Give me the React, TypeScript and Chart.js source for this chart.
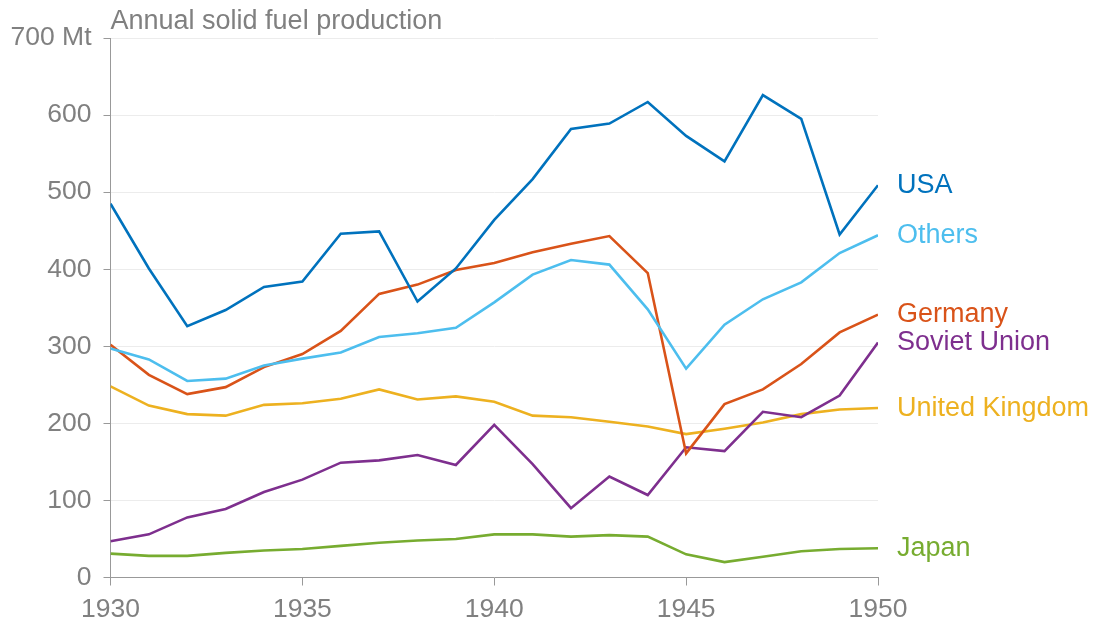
import { useEffect, useRef } from 'react';
import { Chart, registerables } from 'chart.js';

Chart.register(...registerables);

const FONT = '"Liberation Sans", Arial, Helvetica, sans-serif';
const GRAY = '#808080';

const years = [1930, 1931, 1932, 1933, 1934, 1935, 1936, 1937, 1938, 1939, 1940, 1941, 1942, 1943, 1944, 1945, 1946, 1947, 1948, 1949, 1950];
const usa = [485, 401, 326, 347, 377, 384, 446, 449, 358, 401, 464, 517, 582, 589, 617, 573, 540, 626, 595, 445, 509];
const others = [297, 283, 255, 258, 275, 284, 292, 312, 317, 324, 357, 393, 412, 406, 348, 271, 328, 361, 383, 421, 444];
const germany = [302, 263, 238, 247, 273, 290, 320, 368, 380, 399, 408, 422, 433, 443, 395, 161, 225, 244, 277, 318, 341];
const soviet = [47, 56, 78, 89, 111, 127, 149, 152, 159, 146, 198, 147, 90, 131, 107, 169, 164, 215, 208, 236, 305];
const uk = [248, 223, 212, 210, 224, 226, 232, 244, 231, 235, 228, 210, 208, 202, 196, 186, 193, 201, 212, 218, 220];
const japan = [31, 28, 28, 32, 35, 37, 41, 45, 48, 50, 56, 56, 53, 55, 53, 30, 20, 27, 34, 37, 38];

const seriesNames = ['USA', 'Others', 'Germany', 'Soviet Union', 'United Kingdom', 'Japan'];
const seriesValues = [usa, others, germany, soviet, uk, japan];
const seriesColors = ['#0072BD', '#4DBEEE', '#D95319', '#7E2F8E', '#EDB120', '#77AC30'];

const titleText = 'Annual solid fuel production';
const yTicks = [0, 100, 200, 300, 400, 500, 600, 700];
const yUnit = ' Mt';

const labelPlugin = {
  id: 'endLabels',
  afterDatasetsDraw(chart: any) {
    const ctx = chart.ctx;
    const area = chart.chartArea;
    ctx.save();
    ctx.font = `27px ${FONT}`;
    ctx.textAlign = 'left';
    ctx.textBaseline = 'alphabetic';
    ctx.fillStyle = GRAY;
    ctx.fillText(titleText, area.left, 29);
    chart.data.datasets.forEach((ds: any, i: number) => {
      const meta = chart.getDatasetMeta(i);
      const pt = meta.data[meta.data.length - 1];
      ctx.fillStyle = ds.borderColor;
      ctx.fillText(ds.label, area.right + 19, pt.y - 2 + 9.7);
    });
    ctx.restore();
  },
};

export default function App() {
  const ref = useRef<HTMLCanvasElement>(null);
  useEffect(() => {
    const chart = new Chart(ref.current!, {
      type: 'line',
      data: {
        datasets: seriesNames.map((name, i) => ({
          label: name,
          data: years.map((yr, j) => ({ x: yr, y: seriesValues[i][j] })),
          borderColor: seriesColors[i],
          backgroundColor: seriesColors[i],
          borderWidth: 2.6,
          pointRadius: 0,
          tension: 0,
          fill: false,
        })),
      },
      options: {
        responsive: false,
        animation: false,
        layout: { padding: { top: 38, right: 217, bottom: 0, left: 0 } },
        plugins: { legend: { display: false }, tooltip: { enabled: false } },
        scales: {
          x: {
            type: 'linear',
            min: 1930,
            max: 1950,
            ticks: {
              stepSize: 5,
              callback: (v: any) => String(v),
              font: { size: 26.5, family: FONT },
              color: GRAY,
              padding: 8,
              maxRotation: 0,
            },
            grid: { drawOnChartArea: false, tickLength: 8, tickColor: '#999', lineWidth: 1 },
            border: { color: '#999', width: 1 },
            afterFit: (s: any) => { s.height = 45.5; },
          },
          y: {
            min: 0,
            max: 700,
            afterBuildTicks: (s: any) => { s.ticks = yTicks.map((v) => ({ value: v })); },
            ticks: {
              callback: (v: any) => (v === 700 ? `${v}${yUnit}` : String(v)),
              font: { size: 26.5, family: FONT },
              color: GRAY,
              padding: 12,
            },
            grid: { color: '#ececec', tickColor: '#999', tickLength: 7, lineWidth: 1 },
            border: { color: '#999', width: 1 },
            afterFit: (s: any) => { s.width = 110.5; },
          },
        },
      },
      plugins: [labelPlugin],
    } as any);
    return () => chart.destroy();
  }, []);
  return (
    <div style={{ position: 'fixed', left: 0, top: 0, width: 1095, height: 623, background: '#fff' }}>
      <canvas ref={ref} width={1095} height={623} style={{ display: 'block' }} />
    </div>
  );
}
